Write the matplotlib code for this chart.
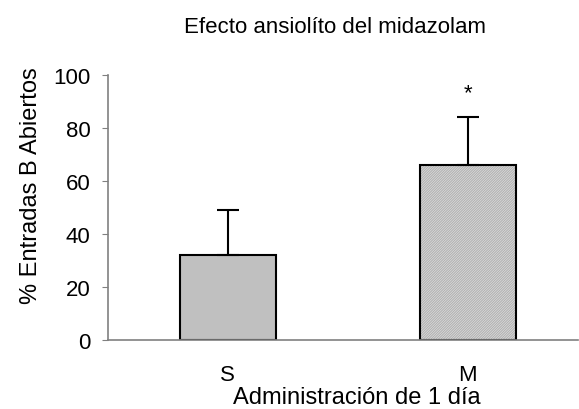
import matplotlib.pyplot as plt

plt.rcParams['font.family'] = ['Liberation Sans', 'DejaVu Sans']
plt.rcParams['hatch.linewidth'] = 0.5

grupos = ['S', 'M']
medias = [32, 66]
error_sup = [17, 18]
colores = ['#c0c0c0', 'white']
tramas = ['', '/' * 20]

fig = plt.figure(figsize=(5.79, 4.10), dpi=100)
ax = fig.add_axes([0.1865, 0.1683, 0.8117, 0.6463])

x = range(len(grupos))
# relleno (la trama en gris) y luego el contorno negro encima
ax.bar(x, medias, width=0.4, color=colores, hatch=tramas, edgecolor='#9a9a9a', linewidth=0)
ax.bar(x, medias, width=0.4, fill=False, edgecolor='black', linewidth=1.5)
ax.errorbar(x, medias, yerr=[[0, 0], error_sup], fmt='none', ecolor='black',
            elinewidth=1.5, capsize=8, capthick=1.5)

ax.text(1, medias[1] + error_sup[1] + 9.5, '*', ha='center', va='center', fontsize=16)

ax.set_xlim(-0.5, 1.46)
ax.set_ylim(0, 100)
ax.set_yticks([0, 20, 40, 60, 80, 100])
ax.set_xticks(list(x))
ax.set_xticklabels(grupos, fontsize=16)
ax.tick_params(axis='x', length=0, pad=17)
ax.tick_params(axis='y', length=4.5, color='#808080', labelsize=16, direction='out', pad=8)

for s in ['top', 'right']:
    ax.spines[s].set_visible(False)
for s in ['left', 'bottom']:
    ax.spines[s].set_color('#808080')
    ax.spines[s].set_linewidth(1.2)

ax.set_xlabel('Administración de 1 día', fontsize=17)
ax.xaxis.set_label_coords(0.53, -0.175)
ax.set_ylabel('% Entradas B Abiertos', fontsize=17)
ax.yaxis.set_label_coords(-0.14, 0.585)
fig.text(0.578, 0.934, 'Efecto ansiolíto del midazolam', ha='center', va='center', fontsize=16)

fig.savefig('out.png')
